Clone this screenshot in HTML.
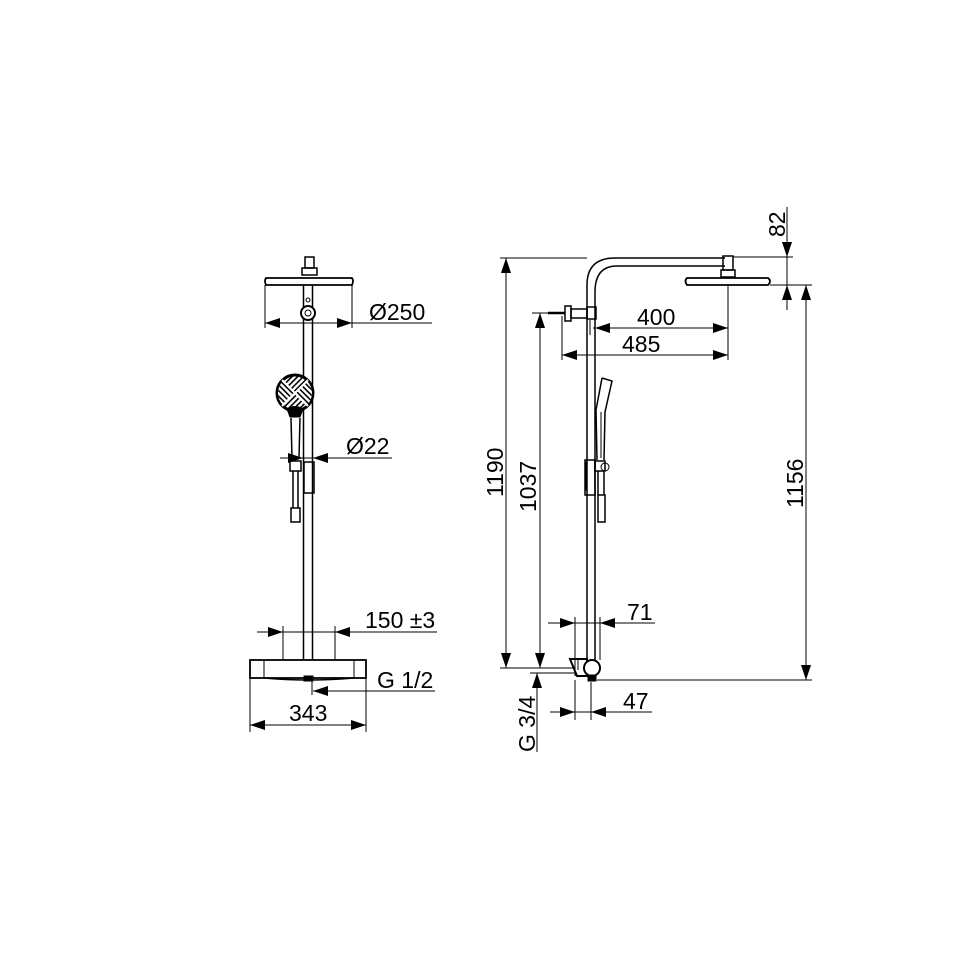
<!DOCTYPE html>
<html><head><meta charset="utf-8"><style>
html,body{margin:0;padding:0;background:#fff;}
svg{display:block;}
text{font-family:"Liberation Sans",sans-serif;font-size:23px;fill:#000;}
</style></head><body>
<svg width="958" height="958" viewBox="0 0 958 958" xmlns="http://www.w3.org/2000/svg">
<defs>
<pattern id="h" width="4" height="4" patternUnits="userSpaceOnUse" patternTransform="rotate(45)"><rect width="4" height="4" fill="#fff"/><rect width="1.6" height="4" fill="#000"/></pattern>
<pattern id="h2" width="4" height="4" patternUnits="userSpaceOnUse" patternTransform="rotate(-45)"><rect width="1.6" height="4" fill="#000"/></pattern>
<clipPath id="q1"><path d="M295 393 L277 375 V411 Z M295 393 L313 375 V411 Z"/></clipPath>
</defs>
<g stroke="#000" stroke-width="1" fill="none">
<rect x="305" y="257" width="9" height="11" stroke-width="1.5"/>
<rect x="302" y="268" width="15" height="7" stroke-width="1.5"/>
<path d="M266 278 H352 Q354 281 352 285 H266 Q264 281 266 278 Z" stroke-width="1.8"/>
<line x1="303.5" y1="285" x2="303.5" y2="660" stroke-width="1.5"/>
<line x1="312.5" y1="285" x2="312.5" y2="660" stroke-width="1.5"/>
<circle cx="308" cy="300" r="2"/>
<circle cx="308" cy="313" r="7" stroke-width="2" fill="#fff"/>
<circle cx="308" cy="313" r="3"/>
<line x1="265" y1="285" x2="265" y2="328"/>
<line x1="352" y1="285" x2="352" y2="328"/>
<line x1="265" y1="323" x2="432" y2="323"/>
<circle cx="295" cy="393" r="18" fill="url(#h)" stroke-width="3"/>
<circle cx="295" cy="393" r="17" fill="#fff" stroke="none" clip-path="url(#q1)"/>
<circle cx="295" cy="393" r="17" fill="url(#h2)" stroke="none" clip-path="url(#q1)"/>
<line x1="282" y1="380" x2="308" y2="406" stroke="#fff" stroke-width="2"/>
<line x1="308" y1="380" x2="282" y2="406" stroke="#fff" stroke-width="2"/>
<path d="M287 409 Q295 404 303 409 L300 417 H290 Z" fill="#000"/>
<path d="M291 418 L292 458 H299 L300 418" stroke-width="1.5"/>
<line x1="280" y1="458" x2="392" y2="458"/>
<rect x="290" y="461" width="11" height="10" stroke-width="1.5"/>
<rect x="304" y="462" width="10" height="31" stroke-width="1.5"/>
<path d="M293 471 V508 M298 471 V508" stroke-width="1.5"/>
<rect x="291" y="508" width="9" height="14" stroke-width="1.5"/>
<rect x="250" y="660" width="116" height="18" stroke-width="1.8"/>
<line x1="264" y1="660" x2="264" y2="678"/>
<line x1="354" y1="660" x2="354" y2="678"/>
<path d="M264 678 Q308 682 354 678" stroke-width="1.5"/>
<rect x="304" y="676" width="9" height="5" fill="#000"/>
<line x1="283" y1="626" x2="283" y2="660"/>
<line x1="335" y1="626" x2="335" y2="660"/>
<line x1="257" y1="632" x2="437" y2="632"/>
<line x1="312" y1="680" x2="312" y2="695"/>
<line x1="313" y1="691" x2="435" y2="691"/>
<line x1="250" y1="678" x2="250" y2="732"/>
<line x1="366" y1="678" x2="366" y2="732"/>
<line x1="250" y1="725" x2="366" y2="725"/>

<path d="M587 660 V285 Q587 258 615 258 H725" stroke-width="1.5"/>
<path d="M595 660 V292 Q595 266 617 266 H725" stroke-width="1.5"/>
<rect x="723" y="256" width="10" height="14" stroke-width="1.5"/>
<rect x="721" y="270" width="14" height="7" stroke-width="1.5"/>
<path d="M687 278 H768 Q772 281 768 285 H687 Q684 281 687 278 Z" stroke-width="1.8"/>
<line x1="548" y1="313" x2="565" y2="313" stroke-width="2.5"/>
<rect x="565" y="306" width="6" height="15" stroke-width="1.5"/>
<rect x="571" y="309" width="16" height="9" stroke-width="1.5"/>
<rect x="587" y="307" width="9" height="12" stroke-width="1.5"/>
<line x1="590" y1="320" x2="590" y2="335"/>
<line x1="593" y1="328" x2="728" y2="328"/>
<line x1="562" y1="316" x2="562" y2="360"/>
<line x1="728" y1="285" x2="728" y2="360"/>
<line x1="562" y1="355" x2="728" y2="355"/>
<line x1="787" y1="207" x2="787" y2="310"/>
<line x1="733" y1="257" x2="793" y2="257"/>
<line x1="770" y1="285" x2="812" y2="285"/>
<line x1="500" y1="258" x2="587" y2="258"/>
<line x1="506" y1="258" x2="506" y2="668"/>
<line x1="532" y1="313" x2="548" y2="313"/>
<line x1="540" y1="313" x2="540" y2="668"/>
<line x1="806" y1="285" x2="806" y2="680"/>
<line x1="500" y1="668" x2="576" y2="668"/>
<line x1="530" y1="673" x2="578" y2="673"/>
<line x1="597" y1="680" x2="812" y2="680"/>
<path d="M602 378 L612 381 L605 412 L604 460 M602 378 L596 410 L597 460" stroke-width="1.5"/>
<line x1="601" y1="412" x2="601" y2="458"/>
<rect x="585" y="460" width="10" height="35" stroke-width="1.5"/>
<rect x="585" y="462" width="2" height="28" fill="#000"/>
<rect x="595" y="461" width="10" height="10" stroke-width="1.5"/>
<circle cx="605" cy="467" r="4"/>
<path d="M598 471 V495 M604 471 V495" stroke-width="1.5"/>
<rect x="598" y="495" width="7" height="27" stroke-width="1.5"/>
<path d="M570 659 H587 V676 H577 Z" stroke-width="2" fill="#fff"/>
<line x1="578" y1="659" x2="578" y2="670"/>
<circle cx="592" cy="668" r="8" stroke-width="2" fill="#fff"/>
<rect x="588" y="675" width="8" height="6" fill="#000"/>
<line x1="575" y1="617" x2="575" y2="676"/>
<line x1="600" y1="617" x2="600" y2="660"/>
<line x1="548" y1="623" x2="655" y2="623"/>
<line x1="575" y1="680" x2="575" y2="720"/>
<line x1="591" y1="682" x2="591" y2="720"/>
<line x1="550" y1="712" x2="652" y2="712"/>
<line x1="537" y1="673" x2="537" y2="752"/>
</g>
<g fill="#000">
<path d="M265 323 l15 -5 v10 Z"/><path d="M352 323 l-15 -5 v10 Z"/>
<path d="M303 458 l-15 -5 v10 Z"/><path d="M313 458 l15 -5 v10 Z"/>
<path d="M283 632 l-15 -5 v10 Z"/><path d="M335 632 l15 -5 v10 Z"/>
<path d="M313 691 l15 -5 v10 Z"/>
<path d="M250 725 l15 -5 v10 Z"/><path d="M366 725 l-15 -5 v10 Z"/>
<path d="M595 328 l15 -5 v10 Z"/><path d="M728 328 l-15 -5 v10 Z"/>
<path d="M562 355 l15 -5 v10 Z"/><path d="M728 355 l-15 -5 v10 Z"/>
<path d="M787 257 l-5 -15 h10 Z"/><path d="M787 285 l-5 15 h10 Z"/>
<path d="M506 258 l-5 15 h10 Z"/><path d="M506 668 l-5 -15 h10 Z"/>
<path d="M540 313 l-5 15 h10 Z"/><path d="M540 668 l-5 -15 h10 Z"/>
<path d="M806 285 l-5 15 h10 Z"/><path d="M806 680 l-5 -15 h10 Z"/>
<path d="M575 623 l-15 -5 v10 Z"/><path d="M600 623 l15 -5 v10 Z"/>
<path d="M575 712 l-15 -5 v10 Z"/><path d="M591 712 l15 -5 v10 Z"/>
<path d="M537 673 l-5 15 h10 Z"/>
</g>
<text x="369" y="320">Ø250</text>
<text x="346" y="454">Ø22</text>
<text x="365" y="628">150 ±3</text>
<text x="377" y="688">G 1/2</text>
<text x="289" y="721">343</text>
<text x="637" y="325">400</text>
<text x="622" y="352">485</text>
<text x="627" y="620">71</text>
<text x="623" y="709">47</text>
<text transform="translate(785,237) rotate(-90)">82</text>
<text transform="translate(503,497) rotate(-90)">1190</text>
<text transform="translate(536,512) rotate(-90)">1037</text>
<text transform="translate(803,508) rotate(-90)">1156</text>
<text transform="translate(535,752) rotate(-90)">G 3/4</text>
</svg>
</body></html>
